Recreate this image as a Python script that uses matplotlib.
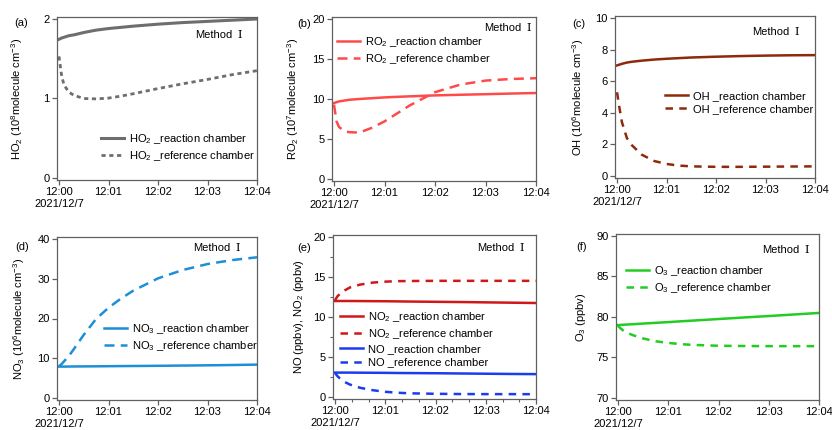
import matplotlib
matplotlib.use("Agg")
import matplotlib.pyplot as plt
from matplotlib.ticker import FixedLocator, AutoMinorLocator, MultipleLocator

plt.rcParams['font.family'] = ['Liberation Sans', 'DejaVu Sans']
plt.rcParams['mathtext.fontset'] = 'custom'
plt.rcParams['mathtext.rm'] = 'Liberation Sans'
plt.rcParams['mathtext.it'] = 'Liberation Sans:italic'
plt.rcParams['mathtext.bf'] = 'Liberation Sans:bold'

# ---------------- data (minutes after 12:00) ----------------
t = [0, 0.05, 0.1, 0.2, 0.3, 0.5, 0.75, 1, 1.25, 1.5, 2, 2.5, 3, 3.5, 4]
tick_labels = ["12:00\n2021/12/7", "12:01", "12:02", "12:03", "12:04"]

ho2_rea = [1.745, 1.76, 1.77, 1.79, 1.80, 1.83, 1.86, 1.88, 1.895, 1.91, 1.935, 1.955, 1.97, 1.985, 2.0]
ho2_ref = [1.53, 1.30, 1.17, 1.08, 1.04, 1.0, 0.995, 1.005, 1.03, 1.06, 1.125, 1.185, 1.24, 1.30, 1.35]

ro2_rea = [9.5, 9.6, 9.7, 9.8, 9.9, 10.0, 10.1, 10.2, 10.27, 10.33, 10.45, 10.53, 10.6, 10.68, 10.75]
ro2_ref = [9.3, 7.2, 6.5, 6.0, 5.85, 5.8, 6.4, 7.2, 8.2, 9.2, 10.85, 11.8, 12.3, 12.5, 12.6]

oh_rea = [7.0, 7.05, 7.1, 7.18, 7.23, 7.3, 7.37, 7.42, 7.46, 7.5, 7.55, 7.59, 7.62, 7.64, 7.65]
oh_ref = [5.3, 4.3, 3.4, 2.4, 1.95, 1.35, 0.95, 0.76, 0.66, 0.61, 0.58, 0.58, 0.59, 0.6, 0.61]

no3_rea = [7.9, 7.9, 7.9, 7.92, 7.93, 7.95, 7.97, 8.0, 8.03, 8.05, 8.1, 8.16, 8.22, 8.3, 8.4]
no3_ref = [8.0, 8.5, 9.2, 10.6, 12.3, 15.9, 19.9, 22.7, 25.0, 27.0, 30.1, 32.2, 33.7, 34.7, 35.4]

no2_rea = [12.0, 12.0, 12.0, 12.0, 12.0, 11.99, 11.98, 11.97, 11.95, 11.93, 11.9, 11.87, 11.83, 11.79, 11.75]
no2_ref = [12.1, 12.6, 12.9, 13.35, 13.7, 14.05, 14.3, 14.42, 14.48, 14.5, 14.52, 14.52, 14.52, 14.52, 14.52]
no_rea = [3.05, 3.05, 3.05, 3.05, 3.05, 3.04, 3.03, 3.02, 3.0, 2.99, 2.97, 2.94, 2.91, 2.88, 2.86]
no_ref = [3.0, 2.6, 2.3, 1.85, 1.55, 1.15, 0.85, 0.65, 0.53, 0.46, 0.4, 0.37, 0.36, 0.36, 0.35]

o3_rea = [79.0, 79.02, 79.04, 79.08, 79.11, 79.19, 79.28, 79.37, 79.47, 79.56, 79.75, 79.94, 80.12, 80.31, 80.5]
o3_ref = [78.9, 78.6, 78.35, 78.0, 77.75, 77.35, 77.0, 76.8, 76.65, 76.55, 76.45, 76.42, 76.4, 76.4, 76.4]

# ---------------- figure ----------------
W, H = 832, 430
fig = plt.figure(figsize=(W / 100, H / 100), dpi=100)

SP = '#606060'
FS = 8


def make_ax(x0, x1, ytop, ybot, vmin, vmax):
    # x0,x1: pixel of 12:00 / 12:04 ; ytop,ybot: pixel of vmax / vmin ticks
    pad = 1.8
    left, right = x0 - pad, x1
    top, bottom = ytop - pad, ybot + pad
    ax = fig.add_axes([left / W, 1 - bottom / H, (right - left) / W, (bottom - top) / H])
    tpp = 4.0 / (x1 - x0)
    vpp = (vmax - vmin) / (ybot - ytop)
    ax.set_xlim(-pad * tpp, 4.0)
    ax.set_ylim(vmin - pad * vpp, vmax + pad * vpp)
    ax.xaxis.set_major_locator(FixedLocator([0, 1, 2, 3, 4]))
    ax.set_xticklabels(tick_labels)
    for s in ax.spines.values():
        s.set_color(SP)
        s.set_linewidth(0.9)
    ax.tick_params(direction='out', length=3.5, width=0.9, color=SP, labelsize=FS, pad=2)
    return ax, (left, right, top, bottom)


def ylab(ax, box, text, px):
    left, right, top, bottom = box
    ax.set_ylabel(text, fontsize=FS)
    ax.yaxis.set_label_coords((px - left) / (right - left), 0.5)


def method(px, py):
    fig.text((px + 12) / W, 1 - py / H, "Method", fontsize=FS, ha='right', va='center')
    fig.text((px + 17) / W, 1 - py / H, "Ⅰ", fontsize=FS, ha='left', va='center',
             family=['DejaVu Serif', 'Liberation Serif', 'Noto Sans CJK SC'])


def plabel(px, py, s):
    fig.text(px / W, 1 - py / H, s, fontsize=FS, ha='center', va='center')


def legend(ax, px, py):
    ax.legend(loc='upper left', bbox_to_anchor=(px / W, 1 - (py - 6) / H),
              bbox_transform=fig.transFigure, frameon=False, fontsize=FS,
              handlelength=2.1, handletextpad=0.4, labelspacing=0.3,
              borderpad=0, borderaxespad=0)


# (a) HO2
c = '#6e6e6e'
ax, box = make_ax(59, 257, 19, 178, 0, 2)
ax.yaxis.set_major_locator(MultipleLocator(1))
ax.plot(t, ho2_rea, color=c, lw=2.2, label='HO$_2$ _reaction chamber')
ax.plot(t, ho2_ref, color=c, lw=2.0, dashes=(1.5, 1.3), label='HO$_2$ _reference chamber')
ylab(ax, box, 'HO$_2$ (10$^8$molecule cm$^{-3}$)', 25)
legend(ax, 101, 138)
method(220, 35)
plabel(21, 23, '(a)')

# (b) RO2
c = '#ff4a4a'
ax, box = make_ax(334, 536, 19, 179, 0, 20)
ax.yaxis.set_major_locator(MultipleLocator(5))
ax.plot(t, ro2_rea, color=c, lw=1.8, label='RO$_2$ _reaction chamber')
ax.plot(t, ro2_ref, color=c, lw=1.8, dashes=(4, 2.5), label='RO$_2$ _reference chamber')
ylab(ax, box, 'RO$_2$ (10$^7$molecule cm$^{-3}$)', 301)
legend(ax, 337, 41)
method(509, 28)
plabel(304, 24, '(b)')

# (c) OH
c = '#8e2a0c'
ax, box = make_ax(617, 815, 18, 176, 0, 10)
ax.yaxis.set_major_locator(MultipleLocator(2))
ax.plot(t, oh_rea, color=c, lw=1.8, label='OH _reaction chamber')
ax.plot(t, oh_ref, color=c, lw=1.8, dashes=(3, 2.5), label='OH _reference chamber')
ylab(ax, box, 'OH (10$^6$molecule cm$^{-3}$)', 586)
legend(ax, 665, 97)
method(777, 32)
plabel(579, 24, '(c)')

# (d) NO3
c = '#1c8fd6'
ax, box = make_ax(59, 257, 239, 398, 0, 40)
ax.yaxis.set_major_locator(MultipleLocator(10))
ax.plot(t, no3_rea, color=c, lw=1.8, label='NO$_3$ _reaction chamber')
ax.plot(t, no3_ref, color=c, lw=1.8, dashes=(4, 2.5), label='NO$_3$ _reference chamber')
ylab(ax, box, 'NO$_3$ (10$^6$molecule cm$^{-3}$)', 27)
legend(ax, 104, 328)
method(218, 248)
plabel(22, 247, '(d)')

# (e) NO, NO2
c1 = '#d01818'
c2 = '#1c3cf0'
ax, box = make_ax(335, 536, 237, 397, 0, 20)
ax.yaxis.set_major_locator(MultipleLocator(5))
ax.yaxis.set_minor_locator(AutoMinorLocator(2))
ax.xaxis.set_minor_locator(AutoMinorLocator(3))
ax.tick_params(which='minor', direction='out', length=2.5, width=0.8, color=SP)
ax.plot(t, no2_rea, color=c1, lw=1.8, label='NO$_2$ _reaction chamber')
ax.plot(t, no2_ref, color=c1, lw=1.8, dashes=(3, 2.5), label='NO$_2$ _reference chamber')
ax.plot(t, no_rea, color=c2, lw=1.8, label='NO _reaction chamber')
ax.plot(t, no_ref, color=c2, lw=1.8, dashes=(3, 2.5), label='NO _reference chamber')
ylab(ax, box, 'NO (ppbv), NO$_2$ (ppbv)', 306)
legend(ax, 340, 316)
method(502, 248)
plabel(304, 248, '(e)')

# (f) O3
c = '#22cc22'
ax, box = make_ax(618, 819, 236, 398, 70, 90)
ax.yaxis.set_major_locator(MultipleLocator(5))
ax.plot(t, o3_rea, color=c, lw=1.8, label='O$_3$ _reaction chamber')
ax.plot(t, o3_ref, color=c, lw=1.8, dashes=(3, 2.5), label='O$_3$ _reference chamber')
ylab(ax, box, 'O$_3$ (ppbv)', 588)
legend(ax, 626, 270)
method(787, 250)
plabel(582, 247, '(f)')

fig.savefig('out.png', dpi=100)
